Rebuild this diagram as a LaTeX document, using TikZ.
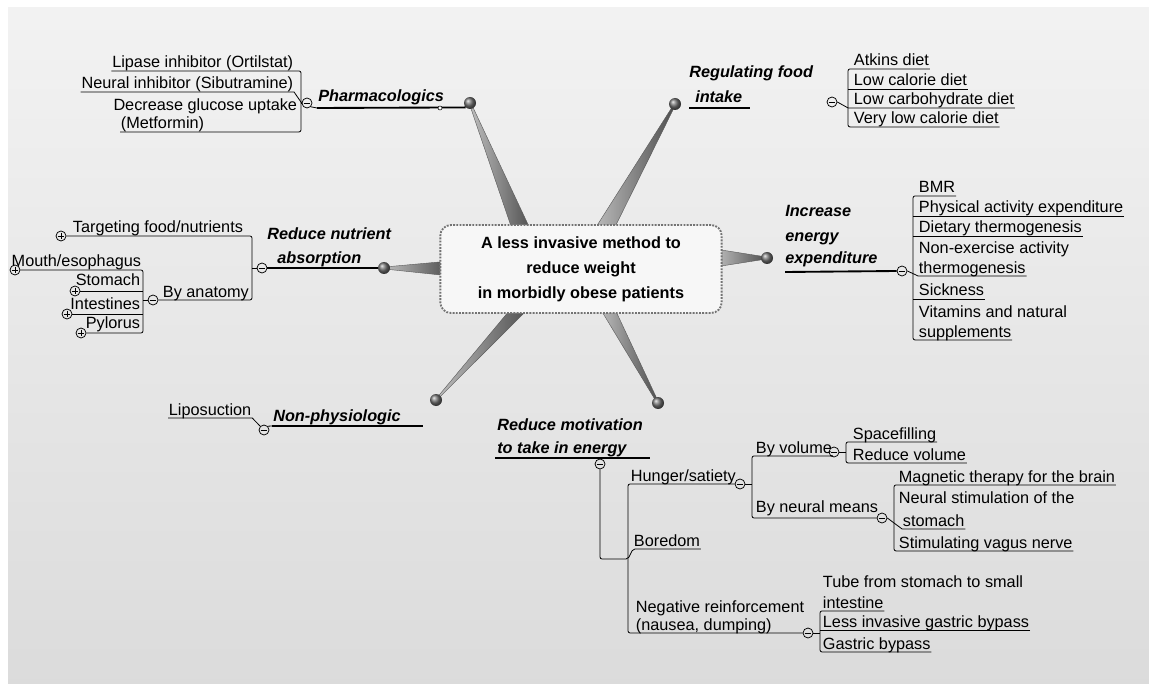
\documentclass[tikz,border=0pt]{standalone}
\usepackage{fontspec}
\setmainfont{Liberation Sans}
\usetikzlibrary{backgrounds}
\newcommand\leaffont{\fontsize{12.2}{15}\selectfont}
\newcommand\topicfont{\fontsize{12.2}{15}\selectfont\bfseries\itshape}
\tikzset{
  twig/.style={line width=0.6pt},
  stem/.style={line width=1.4pt},
  leaf/.style={font=\leaffont, anchor=base west, inner xsep=0.5pt, inner ysep=0pt, text depth=2pt},
  topic/.style={font=\topicfont, anchor=base west, inner sep=0pt},
  bead/.style={circle, inner sep=0pt, minimum size=9pt, shading=ball, ball color=black!55},
  knob/.style={circle, draw, fill=white, inner sep=0pt, minimum size=3pt, line width=0.4pt},
  foldmark/.style={circle, draw, inner sep=0pt, minimum size=7.5pt, line width=0.55pt,
    path picture={\draw ([xshift=1.2pt]path picture bounding box.west) -- ([xshift=-1.2pt]path picture bounding box.east);}},
  openmark/.style={circle, draw, inner sep=0pt, minimum size=7.5pt, line width=0.55pt,
    path picture={\draw ([xshift=1.2pt]path picture bounding box.west) -- ([xshift=-1.2pt]path picture bounding box.east);
      \draw ([yshift=-1.2pt]path picture bounding box.north) -- ([yshift=1.2pt]path picture bounding box.south);}},
  cone/.style={draw=black!65, line width=0.3pt, left color=black!25, right color=black!70},
  hub/.style={draw=black!55, densely dotted, line width=1.4pt, rounded corners=8pt, fill=black!3,
    minimum width=211pt, minimum height=66pt, align=center,
    font=\fontsize{12.2}{18.75}\selectfont\bfseries}
}
\begin{document}
\begin{tikzpicture}[x=0.75pt,y=-0.75pt]
  \useasboundingbox (0,0) rectangle (1149,684);
  % balls at the ends of the spokes
  \node[bead] (bPharm) at (470,103) {};
  \node[bead] (bFood) at (675,104) {};
  \node[bead] (bNutr) at (384,268) {};
  \node[bead] (bEnergy) at (767,258) {};
  \node[bead] (bNonphys) at (436,400) {};
  \node[bead] (bMotiv) at (658,403) {};
  % paper and spokes
  \begin{scope}[on background layer]
    \fill[white] (0,0) rectangle (1149,684);
    \shade[top color=black!5, bottom color=black!14] (8,8) rectangle (1149,684);
    \shadedraw[cone] ([xshift=-0.7pt]bPharm.center) -- ([xshift=0.7pt]bPharm.center) -- (533,235) -- (514,235) -- cycle;
    \shadedraw[cone] ([xshift=-0.7pt]bFood.center) -- ([xshift=0.7pt]bFood.center) -- (611,235) -- (591,235) -- cycle;
    \shadedraw[cone] ([yshift=0.7pt]bNutr.center) -- ([yshift=-0.7pt]bNutr.center) -- (450,276) -- (450,261) -- cycle;
    \shadedraw[cone] ([yshift=0.7pt]bEnergy.center) -- ([yshift=-0.7pt]bEnergy.center) -- (715,267) -- (715,249) -- cycle;
    \shadedraw[cone] ([xshift=-0.7pt]bNonphys.center) -- ([xshift=0.7pt]bNonphys.center) -- (532,305) -- (514,305) -- cycle;
    \shadedraw[cone] ([xshift=-0.7pt]bMotiv.center) -- ([xshift=0.7pt]bMotiv.center) -- (613,305) -- (598,305) -- cycle;
  \end{scope}
  % central topic
  \node[hub] (hub) at (581,269) {A less invasive method to\\reduce weight\\in morbidly obese patients};
  %
  % Pharmacologics
  \node[topic] (pharm) at (318,102) {Pharmacologics};
  \node[foldmark] (phFold) at (307,103) {};
  \coordinate (phStem) at (317,108);
  \draw[stem] (phStem) -- (bPharm.south west);
  \draw[twig] (phFold.south east) -- (phStem);
  \node[knob] (pharmKnob) at (440,108) {};
  \node[leaf, anchor=base east] (lipase) at (294,68) {Lipase inhibitor (Ortilstat)};
  \node[leaf, anchor=base east] (neural) at (294,89) {Neural inhibitor (Sibutramine)};
  \node[leaf, anchor=base east] (glucose) at (298,111) {Decrease glucose uptake};
  \node[leaf] (metformin) at (120,129) {(Metformin)};
  \coordinate (phBr) at (301,0);
  \draw[twig, rounded corners=1.5pt] (lipase.south west) -- (lipase.south west -| phBr) -- (metformin.south -| phBr) -- (metformin.south west);
  \draw[twig] (neural.south west) -- (neural.south east) -- (phFold.west);
  \draw[twig] (phFold.west) -- (phFold.west -| phBr);
  %
  % Regulating food intake
  \node[topic] (food1) at (689,78) {Regulating food};
  \node[topic] (food2) at (695,103) {intake};
  \draw[stem] (food2.base west) ++(-6,5) -- ++(61,0);
  \node[foldmark] (rgFold) at (832,102) {};
  \coordinate (rgBr) at (848,0);
  \node[leaf] (atkins) at (853,66) {Atkins diet};
  \node[leaf] (lowcal) at (853,86) {Low calorie diet};
  \node[leaf] (lowcarb) at (853,105) {Low carbohydrate diet};
  \node[leaf] (vlcd) at (853,124) {Very low calorie diet};
  \draw[twig, rounded corners=1.5pt] (atkins.south east) -- (atkins.south -| rgBr) -- (vlcd.south -| rgBr) -- (vlcd.south east);
  \draw[twig] (lowcal.south east) -- (lowcal.south -| rgBr);
  \draw[twig] (lowcarb.south east) -- (lowcarb.south -| rgBr) -- (rgFold.east);
  %
  % Increase energy expenditure
  \node[topic] (incr1) at (785,217) {Increase};
  \node[topic] (incr2) at (785,242) {energy};
  \node[topic] (incr3) at (785,263) {expenditure};
  \node[foldmark] (ieFold) at (902,271) {};
  \draw[stem] (incr3.base west) ++(0,9) -- (ieFold.west);
  \coordinate (ieBr) at (913,0);
  \node[leaf] (bmr) at (918,193) {BMR};
  \node[leaf] (physact) at (918,213) {Physical activity expenditure};
  \node[leaf] (dietth) at (918,233) {Dietary thermogenesis};
  \node[leaf] (neat1) at (918,253) {Non-exercise activity};
  \node[leaf] (neat2) at (918,273) {thermogenesis};
  \node[leaf] (sick) at (918,296) {Sickness};
  \node[leaf] (vitam1) at (918,317) {Vitamins and natural};
  \node[leaf] (vitam2) at (918,337) {supplements};
  \draw[twig, rounded corners=1.5pt] (bmr.south east) -- (bmr.south -| ieBr) -- (vitam2.south -| ieBr) -- (vitam2.south east);
  \draw[twig] (physact.south east) -- (physact.south -| ieBr);
  \draw[twig] (dietth.south east) -- (dietth.south -| ieBr);
  \draw[twig] (sick.south east) -- (sick.south -| ieBr);
  \draw[twig] (neat2.south east) -- (neat2.south west) -- (ieFold.east);
  %
  % Reduce nutrient absorption
  \node[topic] (nutr1) at (267,240) {Reduce nutrient};
  \node[topic] (nutr2) at (277,263) {absorption};
  \node[foldmark] (rnFold) at (262,268) {};
  \draw[stem] (rnFold.east) -- (bNutr.west);
  \coordinate (rnBr) at (252,0);
  \node[leaf] (target) at (72,233) {Targeting food/nutrients};
  \node[openmark] (tgOpen) at (61,236) {};
  \node[leaf] (anatomy) at (162,297) {By anatomy};
  \node[foldmark] (anFold) at (153,300) {};
  \draw[twig, rounded corners=1.5pt] (tgOpen.east) -- (tgOpen.east -| rnBr) -- (anatomy.south -| rnBr) -- (anFold.east);
  \draw[twig] (rnFold.west) -- (rnFold.west -| rnBr);
  \coordinate (anBr) at (143,0);
  \node[leaf, anchor=base east] (mouth) at (142,267) {Mouth/esophagus};
  \node[openmark] (moOpen) at (15,270) {};
  \node[leaf, anchor=base east] (stomach) at (141,286) {Stomach};
  \node[openmark] (stOpen) at (75,291) {};
  \node[leaf, anchor=base east] (intest) at (141,310) {Intestines};
  \node[openmark] (inOpen) at (67,314) {};
  \node[leaf, anchor=base east] (pylorus) at (141,328) {Pylorus};
  \node[openmark] (pyOpen) at (81,333) {};
  \draw[twig, rounded corners=1.5pt] (moOpen.east) -- (moOpen.east -| anBr) -- (pyOpen.east -| anBr) -- (pyOpen.east);
  \draw[twig] (stOpen.east) -- (stOpen.east -| anBr);
  \draw[twig] (inOpen.east) -- (inOpen.east -| anBr);
  \draw[twig] (anFold.west) -- (anFold.west -| anBr);
  %
  % Non-physiologic
  \node[topic] (nonphys) at (273,421) {Non-physiologic};
  \node[foldmark] (npFold) at (264,430) {};
  \coordinate (npStem) at (272,426);
  \draw[twig] (npFold.north east) -- (npStem);
  \draw[stem] (npStem) -- ++(151,0);
  \node[leaf] (lipo) at (168,415) {Liposuction};
  \draw[twig] (lipo.south west) -- (lipo.south east) -- (npFold.north west);
  %
  % Reduce motivation to take in energy
  \node[topic] (motiv1) at (497,430) {Reduce motivation};
  \node[topic] (motiv2) at (497,453) {to take in energy};
  \draw[stem] (motiv2.base west) ++(-2,5) -- ++(155,0);
  \node[foldmark] (rmFold) at (600,464) {};
  \coordinate (rmBr) at (628,0);
  \coordinate (rmJoin) at (628,559);
  \node[leaf] (hunger) at (630,481) {Hunger/satiety};
  \node[foldmark] (hgFold) at (740,484) {};
  \node[leaf] (boredom) at (633,546) {Boredom};
  \node[leaf] (negre1) at (635,612) {Negative reinforcement};
  \node[leaf] (negre2) at (635,630) {(nausea, dumping)};
  \node[foldmark] (nrFold) at (808,633) {};
  \draw[twig, rounded corners=1.5pt] (hgFold.west) -- (hgFold.west -| rmBr) -- (negre2.south -| rmBr) -- (nrFold.west);
  \draw[twig, rounded corners=1.5pt] (rmFold.south) |- (rmJoin) -- (boredom.south west) -- (boredom.south east);
  % hunger / satiety
  \coordinate (hgBr) at (752,0);
  \node[leaf] (byvol) at (755,453) {By volume};
  \node[foldmark] (bvFold) at (834,452) {};
  \node[leaf] (byneur) at (755,512) {By neural means};
  \node[foldmark] (bnFold) at (882,518) {};
  \draw[twig, rounded corners=1.5pt] (byvol.south east) -- (byvol.south -| hgBr) -- (bnFold.west -| hgBr) -- (bnFold.west);
  \draw[twig] (byvol.south east) -- (bvFold.south west);
  \draw[twig] (hgFold.east) -- (hgFold.east -| hgBr);
  \coordinate (bvBr) at (846,0);
  \node[leaf] (spacefill) at (852,439) {Spacefilling};
  \node[leaf] (redvol) at (852,460) {Reduce volume};
  \draw[twig, rounded corners=1.5pt] (spacefill.south east) -- (spacefill.south -| bvBr) -- (redvol.south -| bvBr) -- (redvol.south east);
  \draw[twig] (bvFold.east) -- (bvFold.east -| bvBr);
  \coordinate (bnBr) at (894,0);
  \node[leaf] (magnet) at (898,482) {Magnetic therapy for the brain};
  \node[leaf] (neurst1) at (898,503) {Neural stimulation of the};
  \node[leaf] (neurst2) at (902,526) {stomach};
  \node[leaf] (vagus) at (898,548) {Stimulating vagus nerve};
  \draw[twig, rounded corners=1.5pt] (magnet.south east) -- (magnet.south -| bnBr) -- (vagus.south -| bnBr) -- (vagus.south east);
  \draw[twig] (bnFold.east) -- (neurst2.south west) -- (neurst2.south east);
  % negative reinforcement
  \coordinate (nrBr) at (820,0);
  \node[leaf] (tube1) at (822,587) {Tube from stomach to small};
  \node[leaf] (tube2) at (822,608) {intestine};
  \node[leaf] (lessinv) at (822,627) {Less invasive gastric bypass};
  \node[leaf] (gastric) at (822,649) {Gastric bypass};
  \draw[twig, rounded corners=1.5pt] (tube2.south east) -- (tube2.south -| nrBr) -- (gastric.south -| nrBr) -- (gastric.south east);
  \draw[twig] (lessinv.south east) -- (lessinv.south -| nrBr);
  \draw[twig] (nrFold.east) -- (nrFold.east -| nrBr);
\end{tikzpicture}
\end{document}
